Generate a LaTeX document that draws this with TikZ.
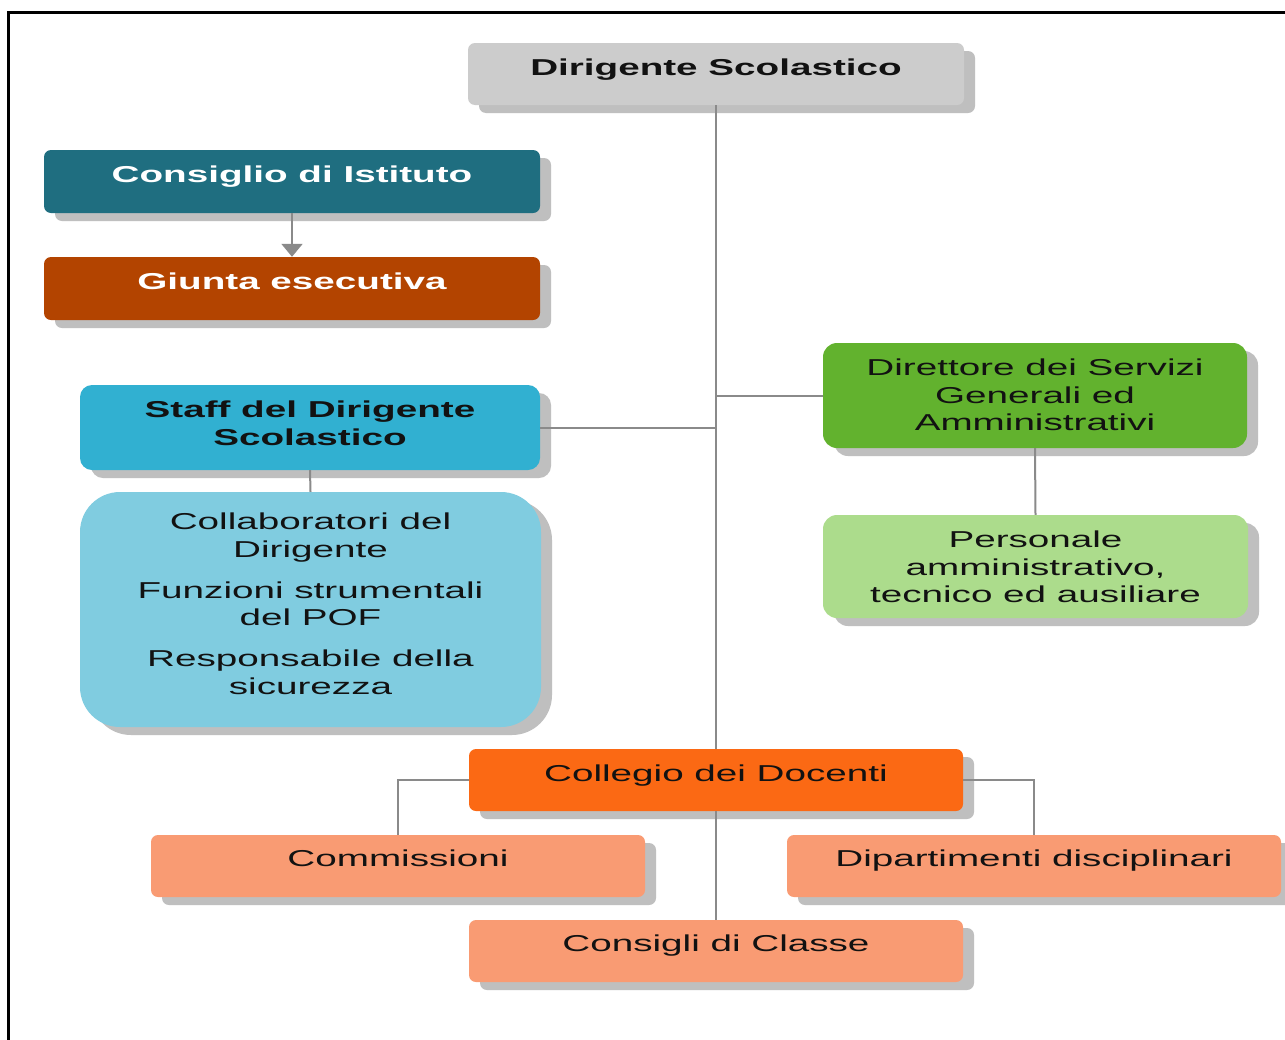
\documentclass[tikz,border=0pt]{standalone}
\usepackage{fontspec}
\newfontfamily\cf{Liberation Sans}[FakeStretch=1.68]
\usetikzlibrary{shadows,arrows.meta}
\definecolor{grayc}{HTML}{CCCCCC}
\definecolor{teal}{HTML}{1F6E80}
\definecolor{rust}{HTML}{B34400}
\definecolor{cyanc}{HTML}{31B0D1}
\definecolor{lblue}{HTML}{80CCE0}
\definecolor{greenc}{HTML}{62B22E}
\definecolor{lgreen}{HTML}{ACDC8C}
\definecolor{orangec}{HTML}{FB6914}
\definecolor{salmon}{HTML}{F99B73}
\definecolor{shadowc}{HTML}{BFBFBF}
\definecolor{linec}{HTML}{8A8A8A}
\definecolor{txt}{HTML}{121212}
\begin{document}
\begin{tikzpicture}[x=1pt,y=-1pt,
  box/.style={draw=none, rounded corners=7pt, inner sep=0pt,
    general shadow={fill=shadowc, shadow xshift=11pt, shadow yshift=-8pt}},
  lab/.style={anchor=north, inner sep=0pt, align=center,
    font=\cf\fontsize{23}{27.5}\selectfont, text=txt},
  conn/.style={draw=linec, line width=2pt}]
\useasboundingbox[fill=white] (0,0) rectangle (1285,1039);
% frame
\draw[line width=2.5pt, black] (8.5,1045) -- (8.5,12.7) -- (1295,12.7);

% boxes
\node[box, fill=grayc, minimum width=496pt, minimum height=62pt] (dir) at (716,74) {};
\node[box, fill=teal, minimum width=496pt, minimum height=63pt] (cons) at (292,181.5) {};
\node[box, fill=rust, minimum width=496pt, minimum height=63pt] (giunta) at (292,288.5) {};
\node[box, fill=cyanc, rounded corners=12pt, minimum width=460pt, minimum height=85pt] (staff) at (310,427.5) {};
\node[box, fill=lblue, rounded corners=40pt, minimum width=461pt, minimum height=235pt] (collab) at (310.5,609.5) {};
\node[box, fill=greenc, rounded corners=14pt, minimum width=424pt, minimum height=105pt] (dsga) at (1035,395.5) {};
\node[box, fill=lgreen, rounded corners=14pt, minimum width=425pt, minimum height=103pt] (pers) at (1035.5,566.5) {};
\node[box, fill=orangec, minimum width=494pt, minimum height=62pt] (col) at (716,780) {};
\node[box, fill=salmon, minimum width=494pt, minimum height=62pt] (com) at (398,866) {};
\node[box, fill=salmon, minimum width=494pt, minimum height=62pt] (dip) at (1034,866) {};
\node[box, fill=salmon, minimum width=494pt, minimum height=62pt] (cdc) at (716,951) {};

% labels
\node[lab] (dirT) at ([yshift=-16pt]dir.north) {\bfseries Dirigente Scolastico};
\node[lab, text=white] (consT) at ([yshift=-15.5pt]cons.north) {\bfseries Consiglio di Istituto};
\node[lab, text=white] (giuntaT) at ([yshift=-15.5pt]giunta.north) {\bfseries Giunta esecutiva};
\node[lab] (staffT) at ([yshift=-16pt]staff.north) {\bfseries Staff del Dirigente\\\bfseries Scolastico};
\node[lab] (collabT) at ([yshift=-21pt]collab.north) {Collaboratori del\\Dirigente\\[13.5pt]Funzioni strumentali\\del POF\\[13.5pt]Responsabile della\\sicurezza};
\node[lab] (dsgaT) at ([yshift=-16pt]dsga.north) {Direttore dei Servizi\\Generali ed\\Amministrativi};
\node[lab] (persT) at ([yshift=-16pt]pers.north) {Personale\\amministrativo,\\tecnico ed ausiliare};
\node[lab] (colT) at ([yshift=-15.5pt]col.north) {Collegio dei Docenti};
\node[lab] (comT) at ([yshift=-14.5pt]com.north) {Commissioni};
\node[lab] (dipT) at ([yshift=-14.5pt]dip.north) {Dipartimenti disciplinari};
\node[lab] (cdcT) at ([yshift=-14.5pt]cdc.north) {Consigli di Classe};

% connectors
\draw[conn] (dir.south) -- (dir.south |- col.north);
\draw[conn] (staff.east) -- (staff.east -| dir.south);
\draw[conn] (dsga.west) -- (dsga.west -| dir.south);
\draw[conn] (staff.south) -- (collab.north);
\draw[conn] (dsga.south) -- (pers.north);
\draw[conn, -{Triangle[width=21pt,length=13pt]}, color=linec] (cons.south) -- (giunta.north);
\draw[conn] (col.west) -| (com.north);
\draw[conn] (col.east) -| (dip.north);
\draw[conn] (col.south) -- (cdc.north);
\end{tikzpicture}
\end{document}
